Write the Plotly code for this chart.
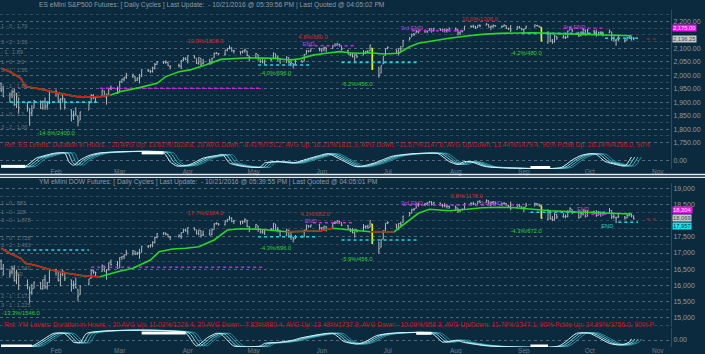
import pandas as pd
import plotly.graph_objects as go

# ---------------- DATA ----------------
holidays = ["2016-01-18", "2016-02-15", "2016-03-25", "2016-05-30", "2016-07-04", "2016-09-05"]
trade_days = pd.bdate_range("2016-01-07", "2016-10-21", freq="C", holidays=holidays)

# ES eMini S&P500 daily bars (Jan .. Oct, one line per month)
es_open = [
    1970,1945,1926,1927,1940,1891,1916,1886,1877,1861,1877,1903,1879,1903,1886,1894,
    1937,1935,1907,1911,1913,1873,1848,1857,1848,1833,1871,1898,1925,1916,1924,1942,1917,1931,1954,1948,
    1937,1976,1985,1994,1996,1996,1982,1990,1995,2019,2015,2014,2026,2041,2047,2048,2048,2032,2037,2032,2057,2061,
    2056,2073,2062,2045,2063,2045,2050,2043,2065,2082,2081,2078,2094,2100,2102,2091,2089,2087,2090,2090,2072,
    2067,2077,2060,2052,2046,2057,2062,2080,2067,2062,2047,2065,2044,2044,2041,2054,2052,2078,2091,2090,2100,
    2093,2097,2104,2100,2111,2112,2115,2110,2092,2077,2077,2067,2076,2075,2085,2089,2090,2100,2030,2008,2042,2074,
    2099,2096,2084,2098,2106,2131,2143,2154,2157,2163,2162,2164,2166,2173,2166,2173,2168,2169,2166,2168,
    2173,2170,2157,2163,2168,2183,2182,2182,2177,2186,2186,2189,2178,2181,2185,2181,2182,2185,2174,2175,2170,2179,2175,
    2170,2174,2180,2185,2183,2178,2121,2155,2127,2124,2145,2141,2141,2143,2168,2172,2160,2148,2157,2168,2151,
    2165,2161,2151,2157,2160,2158,2161,2136,2130,2136,2131,2131,2140,2143,2138]
es_high = [
    1972,1960,1935,1947,1950,1934,1916,1901,1877,1889,1908,1906,1906,1917,1902,1940,
    1947,1935,1915,1927,1913,1873,1868,1881,1848,1864,1895,1930,1930,1918,1946,1942,1932,1951,1962,1958,
    1978,1987,1993,2009,2006,1996,1992,2005,2022,2024,2020,2032,2046,2052,2053,2056,2049,2036,2043,2056,2067,2067,
    2074,2074,2062,2067,2063,2061,2062,2065,2084,2087,2083,2094,2101,2111,2104,2094,2089,2092,2099,2091,2073,
    2083,2077,2060,2060,2058,2064,2084,2080,2073,2064,2071,2067,2061,2044,2058,2056,2079,2094,2092,2099,2103,
    2100,2105,2104,2113,2119,2120,2117,2110,2095,2083,2083,2079,2077,2093,2091,2094,2113,2100,2030,2036,2071,2099,
    2108,2096,2100,2109,2131,2143,2155,2156,2169,2169,2169,2165,2175,2174,2176,2174,2174,2174,2173,2178,
    2178,2170,2164,2168,2183,2185,2188,2183,2186,2189,2194,2189,2184,2188,2186,2185,2190,2186,2177,2187,2183,2183,2175,
    2173,2185,2189,2187,2184,2178,2164,2155,2135,2151,2146,2150,2147,2167,2180,2172,2160,2163,2173,2170,2172,
    2168,2170,2162,2163,2162,2170,2162,2145,2136,2148,2134,2143,2148,2145,2142]
es_low = [
    1938,1918,1901,1915,1886,1878,1857,1865,1812,1848,1877,1875,1872,1872,1872,1894,
    1920,1897,1872,1900,1872,1828,1834,1850,1810,1833,1871,1898,1911,1900,1924,1919,1891,1926,1945,1931,
    1937,1971,1977,1986,1990,1977,1979,1970,1994,2012,2008,2010,2022,2039,2042,2043,2034,2022,2029,2023,2052,2056,
    2044,2062,2042,2039,2034,2040,2041,2043,2065,2078,2075,2073,2089,2096,2088,2081,2077,2081,2084,2071,2052,
    2066,2054,2045,2045,2039,2054,2062,2063,2053,2044,2047,2043,2034,2025,2041,2047,2052,2078,2085,2087,2089,
    2085,2089,2086,2098,2107,2110,2106,2092,2078,2070,2066,2051,2064,2075,2079,2083,2090,2020,1991,2008,2042,2074,
    2097,2081,2074,2089,2106,2131,2143,2146,2157,2155,2158,2157,2166,2159,2163,2165,2162,2159,2159,2163,
    2163,2148,2149,2159,2168,2177,2176,2172,2177,2179,2186,2178,2168,2176,2180,2175,2181,2172,2168,2160,2170,2174,2167,
    2158,2173,2178,2181,2177,2127,2118,2124,2117,2122,2132,2137,2135,2139,2168,2160,2143,2145,2148,2147,2151,
    2157,2144,2150,2150,2145,2157,2128,2125,2110,2127,2122,2129,2136,2129,2130]
es_close = [
    1943,1922,1924,1938,1890,1921,1880,1881,1859,1868,1906,1877,1903,1882,1893,1940,
    1939,1903,1912,1915,1880,1853,1852,1851,1829,1864,1895,1926,1917,1917,1945,1921,1929,1951,1948,1932,
    1978,1986,1993,1999,2001,1979,1989,1989,2022,2019,2015,2027,2040,2049,2051,2049,2036,2035,2037,2055,2063,2059,
    2073,2066,2045,2066,2041,2047,2041,2061,2082,2082,2080,2094,2100,2102,2091,2091,2087,2091,2095,2075,2065,
    2081,2063,2051,2050,2057,2058,2084,2064,2064,2046,2066,2047,2047,2040,2052,2048,2076,2090,2090,2099,2097,
    2099,2105,2099,2110,2112,2119,2115,2096,2079,2075,2071,2077,2071,2083,2088,2085,2113,2037,2001,2036,2071,2099,
    2103,2089,2100,2098,2130,2137,2152,2152,2163,2162,2167,2164,2173,2165,2175,2169,2170,2167,2170,2174,
    2171,2157,2164,2164,2183,2181,2182,2176,2186,2184,2190,2179,2183,2187,2184,2182,2186,2175,2173,2169,2180,2176,2171,
    2171,2180,2187,2186,2181,2128,2160,2127,2125,2148,2139,2139,2140,2164,2178,2165,2146,2160,2171,2151,2168,
    2161,2150,2160,2161,2154,2164,2137,2139,2132,2133,2127,2140,2145,2141,2136.25]

# YM eMini DOW daily bars
ym_open = [
    16750,16520,16360,16410,16520,16150,16330,16000,15950,15780,15900,16080,15890,16170,15950,16080,
    16440,16430,16160,16330,16400,16170,15990,16030,15870,15700,16010,16210,16440,16400,16420,16600,16410,16500,16720,16640,
    16540,16860,16890,16950,16990,17060,16970,17010,17020,17200,17220,17240,17320,17480,17600,17610,17580,17490,17510,17520,17640,17710,
    17660,17790,17720,17600,17700,17560,17590,17570,17730,17910,17920,17880,18000,18050,18080,17980,17990,17970,17990,18020,17820,
    17790,17850,17730,17660,17630,17730,17730,17900,17730,17700,17540,17700,17520,17500,17440,17520,17500,17710,17850,17830,17880,
    17760,17780,17830,17810,17920,17940,17990,17950,17850,17720,17690,17620,17720,17690,17810,17820,17800,17900,17340,17180,17430,17700,
    17920,17900,17800,17910,17950,18150,18240,18360,18390,18500,18510,18530,18560,18590,18520,18560,18490,18470,18460,18450,
    18430,18400,18310,18350,18370,18540,18530,18530,18500,18610,18580,18630,18550,18570,18590,18550,18530,18540,18480,18450,18400,18490,18450,
    18400,18430,18490,18530,18520,18470,18050,18290,18060,18030,18200,18140,18140,18140,18310,18360,18250,18110,18210,18320,18140,
    18290,18250,18170,18250,18260,18250,18320,18120,18100,18120,18120,18090,18160,18200,18150]
ym_high = [
    16800,16660,16480,16600,16620,16480,16330,16180,15950,16040,16110,16090,16180,16320,16100,16466,
    16510,16430,16370,16480,16410,16170,16140,16240,15870,15980,16200,16490,16490,16420,16640,16600,16500,16700,16800,16750,
    16870,16900,16950,17100,17090,17060,17040,17130,17220,17250,17270,17370,17510,17620,17650,17640,17590,17520,17580,17640,17760,17760,
    17800,17790,17720,17720,17700,17700,17740,17760,17920,17960,17930,18010,18060,18160,18110,18030,17990,18000,18080,18030,17830,
    17900,17850,17730,17740,17750,17780,17930,17900,17810,17720,17760,17730,17660,17500,17560,17550,17730,17890,17860,17880,17900,
    17800,17840,17830,17950,18000,18010,18000,17950,17870,17780,17780,17740,17730,17900,17860,17880,18010,17900,17340,17410,17700,17930,
    17990,17900,17930,17980,18160,18280,18380,18390,18550,18560,18550,18580,18620,18610,18590,18570,18530,18560,18500,18480,
    18480,18400,18360,18390,18560,18580,18600,18540,18620,18640,18670,18630,18580,18610,18590,18560,18590,18550,18500,18600,18530,18530,18450,
    18440,18560,18570,18540,18530,18470,18360,18290,18150,18240,18210,18240,18200,18330,18420,18360,18250,18250,18360,18340,18340,
    18320,18330,18300,18290,18280,18400,18330,18210,18130,18250,18150,18200,18260,18230,18170]
ym_low = [
    16480,16310,16230,16340,16110,16030,15850,15870,15450,15700,15900,15870,15860,15880,15860,16080,
    16300,16110,15960,16280,16130,15800,15880,15900,15500,15700,16000,16210,16350,16260,16420,16420,16170,16450,16610,16510,
    16540,16790,16810,16920,16920,16940,16940,16820,17020,17150,17170,17180,17300,17460,17560,17550,17490,17400,17480,17440,17630,17670,
    17570,17700,17580,17550,17480,17530,17550,17560,17730,17880,17850,17860,17960,18020,17960,17900,17880,17900,17940,17800,17650,
    17780,17660,17610,17600,17560,17690,17730,17700,17640,17520,17540,17490,17410,17330,17440,17480,17500,17710,17790,17790,17720,
    17680,17690,17670,17800,17900,17920,17900,17840,17720,17650,17610,17480,17640,17690,17750,17760,17800,17280,16980,17180,17430,17700,
    17900,17760,17710,17830,17950,18150,18240,18310,18390,18440,18460,18490,18550,18480,18480,18460,18420,18420,18380,18370,
    18330,18250,18260,18320,18370,18490,18490,18460,18500,18550,18580,18530,18450,18520,18500,18460,18520,18460,18400,18330,18390,18430,18360,
    18280,18430,18450,18470,18440,18070,18020,18040,17990,18010,18060,18100,18080,18110,18310,18210,18070,18110,18170,18100,18140,
    18220,18120,18170,18130,18160,18250,18060,18070,17930,18090,18040,18080,18140,18110,18040]
ym_close = [
    16514,16346,16398,16516,16151,16379,15988,16016,15766,15882,16093,15885,16167,15944,16069,16466,
    16449,16153,16337,16416,16205,16027,16014,15915,15660,15974,16196,16453,16413,16392,16620,16432,16485,16698,16640,16517,
    16865,16899,16943,17007,17074,16964,17001,16995,17213,17230,17251,17326,17481,17602,17624,17583,17503,17516,17536,17634,17717,17685,
    17793,17737,17604,17716,17542,17577,17557,17722,17909,17927,17897,18004,18053,18096,17983,18004,17978,17991,18042,17831,17774,
    17892,17751,17651,17660,17740,17705,17928,17711,17721,17535,17711,17530,17526,17435,17501,17493,17706,17851,17829,17873,17787,
    17790,17839,17807,17920,17938,18005,17985,17865,17733,17675,17640,17733,17675,17804,17830,17780,18011,17400,17140,17410,17695,17930,
    17949,17841,17919,17896,18147,18226,18347,18372,18506,18516,18533,18559,18595,18517,18570,18493,18473,18472,18456,18432,
    18404,18313,18355,18352,18543,18529,18533,18495,18613,18576,18636,18552,18573,18597,18552,18529,18547,18481,18448,18395,18502,18454,18400,
    18419,18492,18538,18526,18479,18085,18325,18066,18034,18212,18124,18120,18130,18293,18392,18261,18094,18228,18339,18143,18308,
    18254,18168,18281,18269,18240,18329,18129,18144,18098,18138,18086,18162,18203,18162,18069]

highlight_days = ["2016-06-24", "2016-09-09"]

# axis tick values shown on the price scales (the ones hidden behind tags are left out)
es_ticks = [2200, 2100, 2050, 2000, 1950, 1900, 1850, 1800, 1750]
ym_ticks = [19000, 18500, 17500, 17000, 16500, 16000, 15500, 15000]

# trend line
es_ma_dates = ["2016-01-07","2016-01-11","2016-01-16","2016-01-18","2016-01-23","2016-01-30","2016-02-06","2016-02-11",
               "2016-02-15","2016-02-21","2016-02-26","2016-03-01","2016-03-10","2016-03-18","2016-03-22","2016-03-28",
               "2016-04-02","2016-04-09","2016-04-16","2016-04-22","2016-04-29","2016-05-11","2016-05-17","2016-05-22",
               "2016-05-28","2016-06-03","2016-06-09","2016-06-14","2016-06-18","2016-06-23","2016-06-29","2016-07-06",
               "2016-07-11","2016-07-15","2016-07-23","2016-07-29","2016-08-06","2016-08-13","2016-08-21","2016-09-05",
               "2016-09-13","2016-09-20","2016-09-28","2016-10-10","2016-10-20"]
es_ma_vals = [2026,2013,1989,1958,1952,1939,1927,1920,1920,1920,1927,1939,1954,1970,1995,2013,2020,2038,2059,2063,
              2065,2063,2057,2061,2075,2082,2088,2084,2082,2084,2079,2082,2106,2119,2131,2138,2146,2152,2156,2158,
              2156,2154,2152,2150,2147]
es_red_start = ["2016-01-07"]
es_red_end = ["2016-02-26"]

ym_ma_dates = ["2016-01-07","2016-01-11","2016-01-16","2016-01-18","2016-01-22","2016-01-30","2016-02-06","2016-02-14",
               "2016-02-21","2016-02-29","2016-03-07","2016-03-15","2016-03-19","2016-03-25","2016-03-31","2016-04-06",
               "2016-04-13","2016-04-19","2016-04-25","2016-05-04","2016-05-16","2016-05-22","2016-05-31","2016-06-06",
               "2016-06-14","2016-06-23","2016-07-04","2016-07-06","2016-07-11","2016-07-15","2016-07-20","2016-07-29",
               "2016-08-06","2016-08-13","2016-08-21","2016-08-28","2016-09-05","2016-09-13","2016-09-28","2016-10-12",
               "2016-10-20"]
ym_ma_vals = [17147,16991,16836,16680,16627,16472,16369,16285,16263,16419,16525,16783,17041,17125,17147,17197,
              17405,17716,17756,17738,17663,17663,17685,17769,17716,17663,17663,17769,18027,18235,18360,18316,
              18360,18410,18422,18410,18360,18316,18267,18235,18213]
ym_red_start = ["2016-01-07", "2016-05-16", "2016-06-23"]
ym_red_end = ["2016-02-21", "2016-06-06", "2016-07-04"]

# support / resistance levels
es_lvl_price = [1900, 1952, 2038, 2110, 2048, 2166, 2156, 2175, 2137.5, 2135]
es_lvl_start = ["2016-01-11","2016-02-21","2016-05-03","2016-05-26","2016-06-10","2016-07-12","2016-08-31","2016-09-19","2016-10-08","2016-10-27"]
es_lvl_end = ["2016-02-20","2016-05-05","2016-05-27","2016-06-16","2016-07-15","2016-08-04","2016-10-08","2016-10-08","2016-10-23","2016-10-31"]
es_lvl_kind = ["c","m","c","m","c","m","c","m","c","r"]

ym_lvl_price = [17094, 16556, 17508, 17943, 17405, 18494, 18267, 18204, 17957, 18060]
ym_lvl_start = ["2016-01-08","2016-02-17","2016-05-03","2016-05-28","2016-06-10","2016-07-08","2016-09-04","2016-09-29","2016-10-14","2016-10-27"]
ym_lvl_end = ["2016-02-16","2016-05-06","2016-05-29","2016-06-16","2016-07-15","2016-08-30","2016-10-08","2016-10-09","2016-10-23","2016-10-31"]
ym_lvl_kind = ["c","m","c","m","c","m","c","m","c","r"]

# swing notes
es_note_text = ["-14.6%/2400.0","10.9%/1808.0","-4.0%/696.0","4.8%/680.0","END","-6.2%/456.0","3rd END","10.0%/1308.0","-4.2%/480.0","3rd END"]
es_note_date = ["2016-02-01","2016-04-09","2016-05-11","2016-05-28","2016-05-26","2016-06-17","2016-07-12","2016-08-12","2016-09-02","2016-09-24"]
es_note_price = [1783, 2125, 2008, 2141, 2116, 1966, 2175, 2206, 2082, 2178]
es_note_kind = ["dn","up","dn","up","end","dn","end","up","dn","end"]

ym_note_text = ["-13.3%/1546.0","17.7%/2184.0","-4.3%/696.0","4.1%/682.0","END","-5.9%/456.0","3rd END","9.8%/1178.0","3rd END","-4.3%/672.0","END","END"]
ym_note_date = ["2016-01-16","2016-04-09","2016-05-11","2016-05-29","2016-05-27","2016-06-17","2016-07-12","2016-08-06","2016-08-17","2016-09-02","2016-09-28","2016-10-09"]
ym_note_price = [15125, 18235, 17125, 18183, 17974, 16805, 18547, 18760, 18540, 17663, 18360, 17835]
ym_note_kind = ["dn","up","dn","up","end","dn","end","up","end","dn","end","endc"]

# left-side level labels
es_side_price = [2180, 2121, 2084, 2047, 2016, 1957, 1927, 1852, 1805]
es_side_text = ["1 - 0 : 1.79","3 - 2 : 1.53","- 1 : 1.89","1 - 0 : 2.0","3 - 1 : 1.56","2 - 1 : 1.88","2 : 1.52",
                "1 - 0 : 1.1","3 - 2 : 1.06"]
ym_side_price = [18547, 18254, 17996, 17458, 17218, 16503, 16316, 15641, 15370]
ym_side_text = ["1 - 0 : 883","1 - 0 : 228","3 - 0 : 1.878","1 - 0 : 1.728","3 - 2 : 1.433","2 - 2 : 1.540","2 : 1.280",
                "2 - 1 : 1.172","3 - 1 : 1.225"]

# right-edge price tags
es_tag_price = [2175.0, 2136.25]
es_tag_text = ["2,175.00", "2,136.25"]
es_tag_kind = ["m", "g"]
ym_tag_price = [18204, 18069, 17957]
ym_tag_text = ["18,204", "18,069", "17,957"]
ym_tag_kind = ["m", "g", "c"]

# cycle oscillator (-1..1)
es_osc_dates = ["2016-01-07","2016-01-18","2016-01-23","2016-01-27","2016-01-31","2016-02-05","2016-02-07","2016-02-09",
                "2016-02-12","2016-02-16","2016-02-21","2016-03-21","2016-03-24","2016-03-27","2016-04-02","2016-04-08",
                "2016-04-14","2016-04-17","2016-04-20","2016-04-26","2016-05-04","2016-05-06","2016-05-11","2016-05-19",
                "2016-05-25","2016-05-31","2016-06-04","2016-06-10","2016-06-16","2016-06-18","2016-06-25","2016-07-03",
                "2016-07-09","2016-07-13","2016-07-24","2016-07-29","2016-08-02","2016-08-05","2016-08-09","2016-08-14",
                "2016-08-19","2016-09-18","2016-09-23","2016-09-27","2016-10-01","2016-10-04","2016-10-08","2016-10-13",
                "2016-10-17","2016-10-20"]
es_osc_vals = [-0.8,-0.85,0.25,0.6,0.9,0.9,-0.3,-0.7,0.0,0.6,0.95,0.95,-0.25,-0.8,-0.6,0.25,0.6,0.7,-0.4,-0.85,
               -0.95,-0.4,-0.2,-0.4,0.1,0.6,0.85,0.0,-0.85,-0.9,-0.4,0.5,0.75,0.85,0.85,-0.2,-0.6,-0.2,-0.35,-0.85,
               -1.0,-1.0,0.0,0.6,0.85,0.75,-0.2,-0.6,-0.8,0.4]
es_white_start = ["2016-01-07", "2016-03-11", "2016-09-04"]
es_white_end = ["2016-01-18", "2016-03-21", "2016-09-13"]
es_white_level = [-0.85, 0.95, -1.0]

ym_osc_dates = ["2016-01-07","2016-01-21","2016-01-31","2016-02-05","2016-02-09","2016-02-12","2016-02-15","2016-03-31",
                "2016-04-03","2016-04-05","2016-04-10","2016-04-14","2016-04-16","2016-04-22","2016-05-04","2016-05-06",
                "2016-05-12","2016-05-19","2016-05-22","2016-06-06","2016-06-11","2016-06-17","2016-06-21","2016-06-26",
                "2016-07-02","2016-07-21","2016-07-26","2016-07-28","2016-08-02","2016-08-04","2016-08-11","2016-08-16",
                "2016-09-17","2016-09-25","2016-10-01","2016-10-05","2016-10-10","2016-10-15","2016-10-19","2016-10-20"]
ym_osc_vals = [-1,-1,0.95,0.9,-0.4,-0.5,0.95,1.0,-0.3,-1.0,0.3,0.95,0.9,-1.0,-1.0,-0.6,-0.45,-0.1,0.2,0.95,
               -0.3,-0.7,-0.3,0.6,0.95,0.95,-0.4,-0.35,-0.1,-0.4,-0.8,-1.0,-1.0,0.95,0.95,0.3,-0.6,-0.85,-0.4,0.1]
ym_white_start = ["2016-01-07", "2016-03-11", "2016-07-14", "2016-09-04"]
ym_white_end = ["2016-01-21", "2016-03-31", "2016-07-21", "2016-09-12"]
ym_white_level = [-1.0, 1.0, 0.95, -1.0]

es_title = "ES eMini S&P500 Futures: [ Daily Cycles ] Last Update:  - 10/21/2016 @ 05:39:56 PM | Last Quoted @ 04:05:02 PM"
ym_title = "YM eMini DOW Futures: [ Daily Cycles ] Last Update:  - 10/21/2016 @ 05:39:55 PM | Last Quoted @ 04:05:01 PM"
es_ref = ("Ref: ES Levels: Duration in Hours, , 20 AVG Up: 13.61%/1628.8, 20 AVG Down: -8.41%/751.2, AVG Up: 16.21%/1811.3, "
          "AVG Down: -11.67%/1147.6, AVG Up/Down: 13.44%/1479.4, 90% Pctile Up: 26.14%/4286.0, 90%")
ym_ref = ("Ref: YM Levels: Duration in Hours, , 20 AVG Up: 11.03%/1226.4, 20 AVG Down: -7.83%/880.4, AVG Up: 13.48%/1737.9, "
          "AVG Down: -10.09%/956.3, AVG Up/Down: 11.79%/1347.1, 90% Pctile Up: 24.89%/3756.0, 90% P")

# ---------------- STYLE ----------------
W, H = 705, 354
PLOT_W = 671
BG = "#0b2a3e"
FONT = "Liberation Sans, Arial, sans-serif"
TXT = "#8e9aa3"
GRID = "#51687a"
GRID2 = "#2e4a5c"
BAR = "#b3b9bd"
GREEN = "#29d629"
RED = "#d01c1c"
LEVEL_COL = {"c": "#22d3e6", "m": "#d21ee6", "r": "#b5161a"}
NOTE_COL = {"dn": "#2fd12f", "up": "#d42a2a", "end": "#b646e0", "endc": "#22c8da"}
TAG_BG = {"m": "#ee14ee", "g": "#c4c9cc", "c": "#19e3f2"}
TAG_FG = {"m": "#ffe6ff", "g": "#3a4650", "c": "#0b2a3e"}
TAG_YSHIFT = {"y": [0, 0], "y3": [4.5, 0.5, -4.0]}
OSC_COLS = ["#2a8e9c", "#3fb7c6", "#86dbe5", "#d8f6fa"]
OSC_LAGS = [4.5, 3.0, 1.5, 0.0]


def ydom(top_px, bot_px):
    return [1 - bot_px / H, 1 - top_px / H]


fig = go.Figure()
days = pd.to_datetime(trade_days)


def add_bars(o, h, l, c, xa, ya):
    common = dict(xaxis=xa, yaxis=ya, hoverinfo="skip", showlegend=False, tickwidth=0.4)
    fig.add_trace(go.Ohlc(x=days, open=o, high=h, low=l, close=c,
                          increasing=dict(line=dict(color=BAR, width=1)),
                          decreasing=dict(line=dict(color=BAR, width=1)), **common))
    sel = [i for i, d in enumerate(days) if d.strftime("%Y-%m-%d") in highlight_days]
    fig.add_trace(go.Ohlc(x=[days[i] for i in sel], open=[o[i] for i in sel], high=[h[i] for i in sel],
                          low=[l[i] for i in sel], close=[c[i] for i in sel],
                          increasing=dict(line=dict(color="#e4f21c", width=1.6)),
                          decreasing=dict(line=dict(color="#e4f21c", width=1.6)), **common))


def add_ma(dates, vals, rs, re_, xa, ya):
    d = pd.to_datetime(dates)
    fig.add_trace(go.Scatter(x=d, y=vals, mode="lines", line=dict(color=GREEN, width=1.6),
                             xaxis=xa, yaxis=ya, hoverinfo="skip", showlegend=False))
    rx, ry = [], []
    for s, e in zip(rs, re_):
        for dd, v in zip(d, vals):
            if pd.Timestamp(s) <= dd <= pd.Timestamp(e):
                rx.append(dd)
                ry.append(v)
        rx.append(None)
        ry.append(None)
    fig.add_trace(go.Scatter(x=rx, y=ry, mode="lines", line=dict(color=RED, width=1.6),
                             xaxis=xa, yaxis=ya, hoverinfo="skip", showlegend=False))


def add_levels(price, start, end, kind, xa, ya):
    for k, col in LEVEL_COL.items():
        xs, ys = [], []
        for p, s, e, kk in zip(price, start, end, kind):
            if kk == k:
                xs += [s, e, None]
                ys += [p, p, None]
        fig.add_trace(go.Scatter(x=xs, y=ys, mode="lines", line=dict(color=col, width=1.6, dash="dot"),
                                 xaxis=xa, yaxis=ya, hoverinfo="skip", showlegend=False))


def add_notes(text, date, price, kind, xa, ya):
    fig.add_trace(go.Scatter(x=date, y=price, text=text, mode="text", textposition="middle center",
                             textfont=dict(family=FONT, size=5.8, color=[NOTE_COL[k] for k in kind]),
                             xaxis=xa, yaxis=ya, hoverinfo="skip", showlegend=False))


def add_side(price, text, xa, ya):
    fig.add_trace(go.Scatter(x=[days[0]] * len(price), y=price, text=text, mode="text",
                             textposition="middle right",
                             textfont=dict(family=FONT, size=5.5, color="#66737c"),
                             xaxis=xa, yaxis=ya, hoverinfo="skip", showlegend=False))


def add_osc(dates, vals, ws, we, wl, xa, ya):
    d = pd.to_datetime(dates)
    for lag, col in zip(OSC_LAGS, OSC_COLS):
        fig.add_trace(go.Scatter(x=d + pd.Timedelta(days=lag), y=vals, mode="lines",
                                 line=dict(color=col, width=1, shape="spline", smoothing=0.6),
                                 xaxis=xa, yaxis=ya, hoverinfo="skip", showlegend=False))
    xs, ys = [], []
    for s, e, lv in zip(ws, we, wl):
        xs += [s, e, None]
        ys += [lv, lv, None]
    fig.add_trace(go.Scatter(x=xs, y=ys, mode="lines", line=dict(color="#ffffff", width=3),
                             xaxis=xa, yaxis=ya, hoverinfo="skip", showlegend=False))


# top panel (ES)
add_levels(es_lvl_price, es_lvl_start, es_lvl_end, es_lvl_kind, "x", "y")
add_side(es_side_price, es_side_text, "x", "y")
add_bars(es_open, es_high, es_low, es_close, "x", "y")
add_ma(es_ma_dates, es_ma_vals, es_red_start, es_red_end, "x", "y")
add_notes(es_note_text, es_note_date, es_note_price, es_note_kind, "x", "y")
add_osc(es_osc_dates, es_osc_vals, es_white_start, es_white_end, es_white_level, "x2", "y2")

# bottom panel (YM)
add_levels(ym_lvl_price, ym_lvl_start, ym_lvl_end, ym_lvl_kind, "x3", "y3")
add_side(ym_side_price, ym_side_text, "x3", "y3")
add_bars(ym_open, ym_high, ym_low, ym_close, "x3", "y3")
add_ma(ym_ma_dates, ym_ma_vals, ym_red_start, ym_red_end, "x3", "y3")
add_notes(ym_note_text, ym_note_date, ym_note_price, ym_note_kind, "x3", "y3")
add_osc(ym_osc_dates, ym_osc_vals, ym_white_start, ym_white_end, ym_white_level, "x4", "y4")

XR = ["2016-01-06 12:00", "2016-11-07"]
xbase = dict(type="date", range=XR, showgrid=False, zeroline=False, showline=False, ticks="",
             rangeslider=dict(visible=False), domain=[0, 1])
xlab = dict(showticklabels=True, dtick="M1", tick0="2016-01-01", tickformat="%b",
            tickfont=dict(family=FONT, size=6.5, color="#6f7d87"))
ybase = dict(side="right", zeroline=False, showline=True, linecolor="#2f4b5d", linewidth=1, ticks="",
             tickfont=dict(family=FONT, size=7, color=TXT), showgrid=True, gridcolor=GRID,
             griddash="dot", gridwidth=1)

fig.update_layout(
    width=W, height=H, margin=dict(l=0, r=W - PLOT_W, t=0, b=0),
    paper_bgcolor=BG, plot_bgcolor=BG, showlegend=False,
    xaxis=dict(**xbase, anchor="y", showticklabels=False),
    xaxis2=dict(**xbase, anchor="y2", matches="x", ticklabelstandoff=-3, **xlab),
    xaxis3=dict(**xbase, anchor="y3", matches="x", showticklabels=False),
    xaxis4=dict(**xbase, anchor="y4", matches="x", ticklabelstandoff=-2, **xlab),
    yaxis=dict(**ybase, anchor="x", domain=ydom(10, 148), range=[1729.5, 2242.8], tickformat=",.2f",
               tickvals=es_ticks,
               minor=dict(dtick=25, tick0=0, showgrid=True, gridcolor=GRID2, griddash="dot")),
    yaxis2=dict(**ybase, anchor="x2", domain=ydom(148, 169), range=[-1.2, 1.6],
                tickvals=[-0.13], ticktext=["0.00"]),
    yaxis3=dict(**ybase, anchor="x3", domain=ydom(183, 327), range=[14699, 19178], tickformat=",d",
                tickvals=ym_ticks,
                minor=dict(dtick=250, tick0=0, showgrid=True, gridcolor=GRID2, griddash="dot")),
    yaxis4=dict(**ybase, anchor="x4", domain=ydom(328, 347), range=[-1.154, 1.769],
                tickvals=[-0.08], ticktext=["0.00"]),
)

ann = []


def paper_text(text, x_px, y_px, color, size):
    ann.append(dict(text=text, xref="paper", yref="paper", x=x_px / PLOT_W, y=1 - y_px / H,
                    xanchor="left", yanchor="middle", showarrow=False,
                    font=dict(family=FONT, size=size, color=color)))


paper_text(es_title, 37, 5, "#8f9ba4", 6.7)
paper_text(es_ref, 2, 145, "#c81b1b", 6.7)
paper_text(ym_title, 37, 182, "#8f9ba4", 6.7)
paper_text(ym_ref, 2, 325, "#c81b1b", 6.7)

for prices, texts, kinds, ya in [(es_tag_price, es_tag_text, es_tag_kind, "y"),
                                 (ym_tag_price, ym_tag_text, ym_tag_kind, "y3")]:
    for p, t, k, sh in zip(prices, texts, kinds, TAG_YSHIFT[ya]):
        ann.append(dict(text=t, xref="paper", yref=ya, x=1, y=p, xanchor="left", yanchor="middle",
                        xshift=1, yshift=sh, showarrow=False, bgcolor=TAG_BG[k], borderpad=0,
                        font=dict(family=FONT, size=5.8, color=TAG_FG[k])))
fig.update_layout(annotations=ann)

# panel separator (double white rule)
shapes = []
for ypx in (174.5, 177.3):
    shapes.append(dict(type="line", xref="paper", yref="paper", x0=0, x1=W / PLOT_W,
                       y0=1 - ypx / H, y1=1 - ypx / H, line=dict(color="#e2e8ec", width=1.3)))
fig.update_layout(shapes=shapes)

fig.write_html("out.html", config={"displayModeBar": False})
